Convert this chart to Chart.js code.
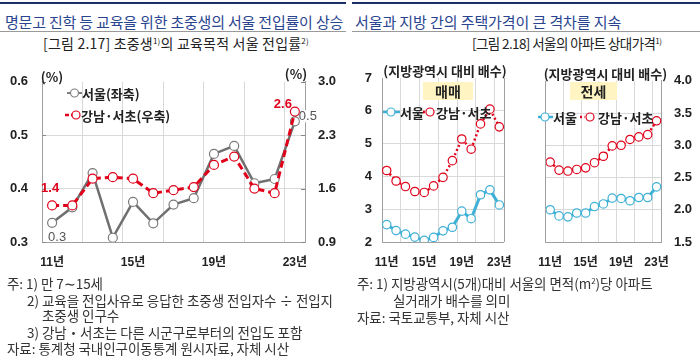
<!DOCTYPE html>
<html><head><meta charset="utf-8">
<script src="https://cdn.jsdelivr.net/npm/chart.js@4/dist/chart.umd.min.js"></script>
<style>
html,body{margin:0;padding:0;background:#fff;}
body{width:700px;height:360px;position:relative;overflow:hidden;font-family:'Noto Sans CJK KR',sans-serif;color:#222;}
.abs{position:absolute;white-space:nowrap;}
.topline{position:absolute;height:2px;background:#1d2f68;top:2px;}
.subline{position:absolute;height:1px;background:#9a9a9a;top:31px;}
.head{font-size:15px;line-height:18px;color:#2a4590;top:13px;letter-spacing:-0.2px;}
.cap{font-size:14px;line-height:16px;color:#222;top:35px;letter-spacing:0.2px;}
.note{font-size:13.5px;line-height:16px;color:#333;letter-spacing:-0.05px;}
sup{font-size:8px;vertical-align:5px;line-height:0;}
canvas{position:absolute;}
</style></head>
<body>
<div class="topline" style="left:0;width:346px"></div>
<div class="topline" style="left:352px;width:348px"></div>
<div class="abs head" style="left:5px">명문고 진학 등 교육을 위한 초중생의 서울 전입률이 상승</div>
<div class="abs head" style="left:355px;letter-spacing:-0.1px">서울과 지방 간의 주택가격이 큰 격차를 지속</div>
<div class="subline" style="left:0;width:346px"></div>
<div class="subline" style="left:352px;width:348px"></div>
<div class="abs cap" style="left:43px">[그림 2.17] 초중생<sup>1)</sup>의 교육목적 서울 전입률<sup>2)</sup></div>
<div class="abs cap" style="left:472px;font-size:13.5px;letter-spacing:-0.6px">[그림 2.18] 서울의 아파트 상대가격<sup>1)</sup></div>

<canvas id="c1" width="350" height="215" style="left:0;top:60px"></canvas>
<canvas id="c2" width="175" height="215" style="left:350px;top:60px"></canvas>
<canvas id="c3" width="175" height="215" style="left:525px;top:60px"></canvas>

<div class="abs note" style="left:7px;top:275px">주: 1) 만 7∼15세</div>
<div class="abs note" style="left:27px;top:292px">2) 교육을 전입사유로 응답한 초중생 전입자수 ÷ 전입지</div>
<div class="abs note" style="left:42px;top:307px">초중생 인구수</div>
<div class="abs note" style="left:27px;top:324px">3) 강남・서초는 다른 시군구로부터의 전입도 포함</div>
<div class="abs note" style="left:7px;top:340px">자료: 통계청 국내인구이동통계 원시자료, 자체 시산</div>

<div class="abs note" style="left:357px;top:275px">주: 1) 지방광역시(5개)대비 서울의 면적(m<sup>2</sup>)당 아파트</div>
<div class="abs note" style="left:393px;top:292px">실거래가 배수를 의미</div>
<div class="abs note" style="left:357px;top:309px">자료: 국토교통부, 자체 시산</div>

<script>
// ---------- data ----------
const years = ['11년','12년','13년','14년','15년','16년','17년','18년','19년','20년','21년','22년','23년'];
const shownYears = ['11년','15년','19년','23년'];

const seoulRate   = [0.336,0.365,0.429,0.308,0.375,0.335,0.370,0.382,0.465,0.480,0.410,0.418,0.526];
const gangnamRate = [1.38,1.38,1.73,1.75,1.73,1.54,1.58,1.62,1.91,2.02,1.60,1.54,2.61];
const rateLeftTicks  = ['0.3','0.4','0.5','0.6'];
const rateRightTicks = ['0.9','1.6','2.3','3.0'];

const saleSeoul   = [2.53,2.35,2.24,2.15,2.05,2.14,2.34,2.45,2.94,2.71,3.44,3.59,3.13];
const saleGangnam = [4.18,3.86,3.69,3.54,3.51,3.71,3.97,4.48,5.14,4.83,5.60,6.05,5.51];
const saleTicks   = ['2','3','4','5','6','7'];

const leaseSeoul   = [2.00,1.905,1.89,1.95,1.95,2.05,2.09,2.18,2.175,2.14,2.19,2.19,2.355];
const leaseGangnam = [2.74,2.615,2.60,2.625,2.65,2.73,2.83,2.99,3.00,3.09,3.13,3.165,3.38];
const leaseTicks   = ['1.5','2.0','2.5','3.0','3.5','4.0'];

// ---------- style ----------
const KF = "'Noto Sans CJK KR', sans-serif";
const NUMF = "'Liberation Sans', 'Noto Sans CJK KR', sans-serif";
const GRID = '#d9d9d9', AXIS = '#a0a0a0', NONE = 'rgba(0,0,0,0)';
const GRAY = '#707070', RED = '#e0001a', CYAN = '#3fb0d6';

function xScale(){
  return {
    type:'category', offset:true,
    grid:{offset:true, drawTicks:false, lineWidth:1,
      color: c => (c.index !== undefined && c.index > 0 && c.index < years.length && c.index % 2 === 0) ? GRID : NONE},
    border:{display:true, color:AXIS, width:1},
    ticks:{autoSkip:false, maxRotation:0, minRotation:0, padding:13, color:'#222',
      font:{family:NUMF, size:12, weight:'bold'},
      callback:(v,i) => shownYears.includes(years[i]) ? years[i] : ''},
    afterFit: s => { s.height = 33; }
  };
}
function yScale(o){
  return {
    type:'linear', position:o.pos, min:o.min, max:o.max,
    ticks:{stepSize:o.step, padding:o.pad, color:'#222', font:{family:NUMF, size:o.fs || 13, weight:'bold'},
      callback:(v,i) => o.labels[i]},
    grid:{drawTicks:false, drawOnChartArea:o.grid,
      color: c => (c.index > 0 && c.index < o.labels.length - 1) ? GRID : NONE},
    border:{display:true, color:AXIS, width:1},
    afterFit: s => { s.width = o.w; }
  };
}
function legendItem(ctx, x0, x1, cx, y, color, dash, lw, text, tx){
  ctx.save();
  ctx.strokeStyle = color; ctx.lineWidth = lw; ctx.setLineDash(dash);
  ctx.beginPath(); ctx.moveTo(x0, y); ctx.lineTo(x1, y); ctx.stroke();
  ctx.setLineDash([]); ctx.lineWidth = 1.2;
  ctx.fillStyle = '#fff';
  ctx.beginPath(); ctx.arc(cx, y, 4, 0, Math.PI*2); ctx.fill(); ctx.stroke();
  ctx.fillStyle = '#222'; ctx.font = 'bold 13px ' + KF;
  ctx.textAlign = 'left'; ctx.textBaseline = 'middle';
  ctx.fillText(text, tx, y + 1);
  ctx.restore();
}
const baseOpts = {
  responsive:false, animation:false, devicePixelRatio:1,
  plugins:{legend:{display:false}, tooltip:{enabled:false}},
  elements:{line:{tension:0}}
};

// ---------- chart 1 ----------
const deco1 = {
  id:'deco1',
  afterDraw(chart){
    const {ctx, chartArea:a, scales} = chart;
    ctx.save();
    ctx.strokeStyle = '#888'; ctx.lineWidth = 1;
    scales.y.ticks.forEach(t => {
      const py = Math.round(scales.y.getPixelForValue(t.value)) + 0.5;
      ctx.beginPath(); ctx.moveTo(a.left, py); ctx.lineTo(a.left + 4, py); ctx.stroke();
    });
    scales.y1.ticks.forEach(t => {
      const py = Math.round(scales.y1.getPixelForValue(t.value)) + 0.5;
      ctx.beginPath(); ctx.moveTo(a.right, py); ctx.lineTo(a.right - 4, py); ctx.stroke();
    });
    ctx.fillStyle = '#222'; ctx.font = 'bold 13px ' + KF;
    ctx.textAlign = 'center'; ctx.textBaseline = 'middle';
    ctx.fillText('(%)', a.left + 10, a.top - 5);
    ctx.fillText('(%)', a.right - 9, a.top - 8);
    const s = chart.getDatasetMeta(0).data, g = chart.getDatasetMeta(1).data;
    const n = s.length - 1;
    ctx.font = 'bold 13px ' + NUMF; ctx.fillStyle = RED;
    ctx.fillText(gangnamRate[0].toFixed(1), g[0].x - 2, g[0].y - 17);
    ctx.fillText(gangnamRate[n].toFixed(1), g[n].x - 12, g[n].y - 7);
    ctx.font = '13px ' + NUMF; ctx.fillStyle = '#555';
    ctx.fillText(seoulRate[0].toFixed(1), s[0].x + 5, s[0].y + 15);
    ctx.fillStyle = '#fff';
    ctx.fillRect(s[n].x + 5, s[n].y - 11, 15, 12);
    ctx.fillStyle = '#555';
    ctx.fillText(seoulRate[n].toFixed(1), s[n].x + 13, s[n].y - 5);
    ctx.restore();
    legendItem(ctx, 67, 82, 74.5, 33, '#808080', [], 2, '서울(좌축)', 82);
    legendItem(ctx, 65, 80, 76, 55, RED, [4,2], 2.5, '강남·서초(우축)', 81);
  }
};
new Chart(document.getElementById('c1'), {
  type:'line',
  data:{labels:years, datasets:[
    {label:'서울(좌축)', data:seoulRate, yAxisID:'y', order:2, borderColor:GRAY, borderWidth:2.5,
     pointRadius:4.5, pointBackgroundColor:'#fff', pointBorderColor:'#7a7a7a', pointBorderWidth:1.2},
    {label:'강남·서초(우축)', data:gangnamRate, yAxisID:'y1', order:1, borderColor:RED, borderWidth:3, borderDash:[7,4],
     pointRadius:4.5, pointBackgroundColor:'#fff', pointBorderColor:RED, pointBorderWidth:1.2}
  ]},
  options:Object.assign({}, baseOpts, {
    layout:{padding:{top:18, left:0, right:0, bottom:0}},
    scales:{
      x:xScale(),
      y:yScale({pos:'left', min:0.3, max:0.6, step:0.1, labels:rateLeftTicks, pad:14, w:42, grid:true}),
      y1:yScale({pos:'right', min:0.9, max:3.0, step:0.7, labels:rateRightTicks, pad:13, w:45, grid:false})
    }
  }),
  plugins:[deco1]
});

// ---------- charts 2, 3 ----------
function housingDeco(id, boxText, box, leg, side){
  return {
    id:id,
    afterDraw(chart){
      const {ctx, chartArea:a} = chart;
      ctx.save();
      ctx.strokeStyle = AXIS; ctx.lineWidth = 1;
      const bx = side === 'right' ? Math.round(a.right) + 0.5 : Math.round(a.left) - 0.5;
      ctx.beginPath(); ctx.moveTo(bx, a.top); ctx.lineTo(bx, a.bottom); ctx.stroke();
      ctx.fillStyle = '#222'; ctx.font = 'bold 13px ' + KF;
      ctx.textAlign = 'center'; ctx.textBaseline = 'middle';
      ctx.fillText('(지방광역시 대비 배수)', (a.left + a.right) / 2 + 2, a.top - 7);
      ctx.fillStyle = '#fff4c2';
      ctx.fillRect(box.x, box.y, box.w, box.h);
      ctx.fillStyle = '#222'; ctx.font = 'bold 14px ' + KF;
      ctx.fillText(boxText, box.x + box.w / 2, box.y + box.h / 2 + 1);
      ctx.restore();
      legendItem(ctx, leg.s0, leg.s1, leg.sc, leg.y, CYAN, [], 2.5, '서울', leg.st);
      legendItem(ctx, leg.r0, leg.r1, leg.rc, leg.y, RED, [2,2.5], 2.5, '강남·서초', leg.rt);
    }
  };
}
function housingSets(seoul, gangnam){
  return [
    {label:'서울', data:seoul, order:1, borderColor:CYAN, borderWidth:3,
     pointRadius:4.2, pointBackgroundColor:'#fff', pointBorderColor:CYAN, pointBorderWidth:1.2},
    {label:'강남·서초', data:gangnam, order:2, borderColor:RED, borderWidth:2.5, borderDash:[2,2.5],
     pointRadius:4.2, pointBackgroundColor:'#fff', pointBorderColor:RED, pointBorderWidth:1.2}
  ];
}
new Chart(document.getElementById('c2'), {
  type:'line',
  data:{labels:years, datasets:housingSets(saleSeoul, saleGangnam)},
  options:Object.assign({}, baseOpts, {
    layout:{padding:{top:18, left:0, right:13, bottom:0}},
    scales:{
      x:xScale(),
      y:yScale({pos:'left', min:2, max:7, step:1, labels:saleTicks, pad:10, w:32, grid:true})
    }
  }),
  plugins:[housingDeco('deco2', '매매', {x:73, y:22, w:50, h:18},
    {y:52, s0:33, s1:50, sc:41, st:50, r0:73, r1:78, rc:80, rt:86}, 'right')]
});
new Chart(document.getElementById('c3'), {
  type:'line',
  data:{labels:years, datasets:housingSets(leaseSeoul, leaseGangnam)},
  options:Object.assign({}, baseOpts, {
    layout:{padding:{top:18, left:8, right:0, bottom:0}},
    scales:{
      x:xScale(),
      y:yScale({pos:'right', min:1.5, max:4.0, step:0.5, labels:leaseTicks, pad:13, w:39, grid:true})
    }
  }),
  plugins:[housingDeco('deco3', '전세', {x:45, y:22, w:47, h:18},
    {y:57, s0:13, s1:28, sc:20, st:28, r0:55, r1:60, rc:65, rt:73}, 'left')]
});
</script>
</body></html>
